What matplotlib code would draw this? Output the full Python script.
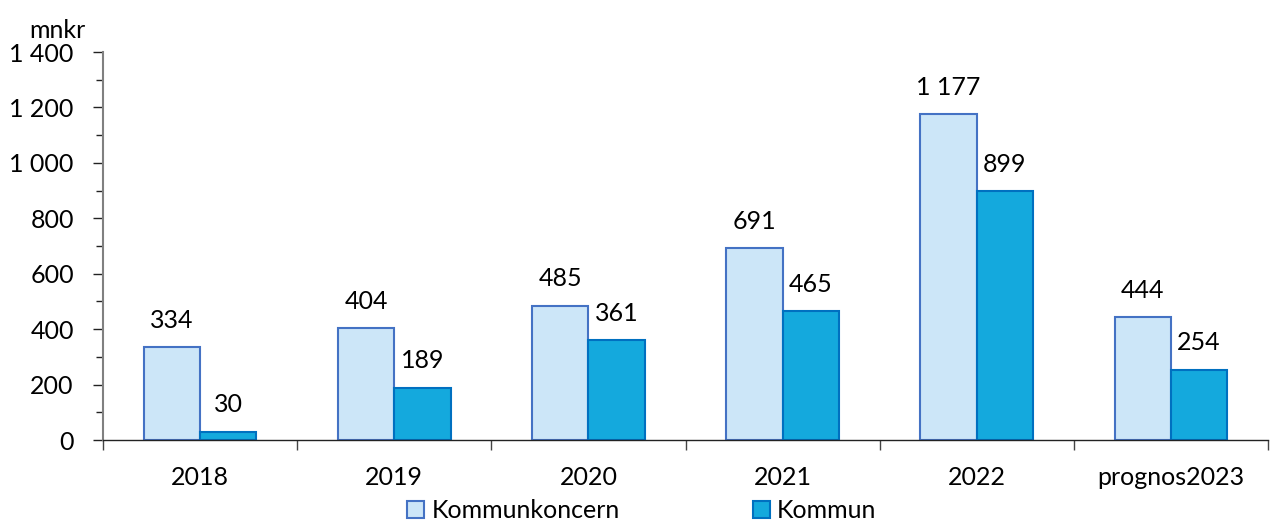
import matplotlib
matplotlib.use("Agg")
import matplotlib.pyplot as plt
import numpy as np
from matplotlib.ticker import MultipleLocator, FuncFormatter

categories = ["2018", "2019", "2020", "2021", "2022", "prognos2023"]
kommunkoncern = [334, 404, 485, 691, 1177, 444]
kommun = [30, 189, 361, 465, 899, 254]
series_names = ["Kommunkoncern", "Kommun"]

plt.rcParams['font.family'] = ['Lato', 'DejaVu Sans']
FS = 18

fig = plt.figure(figsize=(12.72, 5.24), dpi=100)
ax = fig.add_axes([103/1272, 1-440/524, (1268-103)/1272, (440-52)/524])

x = np.arange(len(categories))
w = 0.29
light_fc, light_ec = "#CCE6F8", "#4472C4"
dark_fc, dark_ec = "#14A9DD", "#0070C0"

b1 = ax.bar(x - w/2, kommunkoncern, w, color=light_fc, edgecolor=light_ec, linewidth=1.5, label=series_names[0])
b2 = ax.bar(x + w/2, kommun, w, color=dark_fc, edgecolor=dark_ec, linewidth=1.5, label=series_names[1])

fmt = lambda v: f"{v:,.0f}".replace(",", " ")
for rects, vals in ((b1, kommunkoncern), (b2, kommun)):
    for r, v in zip(rects, vals):
        ax.annotate(fmt(v), (r.get_x() + r.get_width()/2, v), xytext=(0, 11),
                    textcoords="offset points", ha="center", va="bottom", fontsize=FS)

ax.set_xlim(-0.5, len(categories) - 0.5)
ax.set_ylim(0, 1400)
ax.yaxis.set_major_locator(MultipleLocator(200))
ax.yaxis.set_minor_locator(MultipleLocator(100))
ax.yaxis.set_major_formatter(FuncFormatter(lambda v, p: fmt(v)))
ax.tick_params(axis='y', which='major', length=7, width=1, labelsize=FS, pad=14, color="#222222")
ax.tick_params(axis='y', which='minor', length=5, width=1, color="#222222")

ax.set_xticks(x)
ax.set_xticklabels(categories, fontsize=FS)
ax.tick_params(axis='x', which='major', length=0, pad=19)
ax.set_xticks(np.arange(len(categories) + 1) - 0.5, minor=True)
ax.tick_params(axis='x', which='minor', length=7, width=1, color="#444444")

for s in ("top", "right"):
    ax.spines[s].set_visible(False)
ax.spines["left"].set_color("#808080")
ax.spines["left"].set_linewidth(1.5)
ax.spines["bottom"].set_color("#222222")
ax.spines["bottom"].set_linewidth(1)

fig.text(57/1272, 1-30/524, "mnkr", fontsize=FS, ha="center", va="center")

fig.legend(handles=[b1, b2], labels=series_names, loc="center", bbox_to_anchor=(642/1272, 1-511/524),
           ncol=2, frameon=False, fontsize=FS, handlelength=0.68, handleheight=0.68,
           handletextpad=0.3, columnspacing=5.3, borderpad=0)

fig.savefig("out.png", dpi=100)
